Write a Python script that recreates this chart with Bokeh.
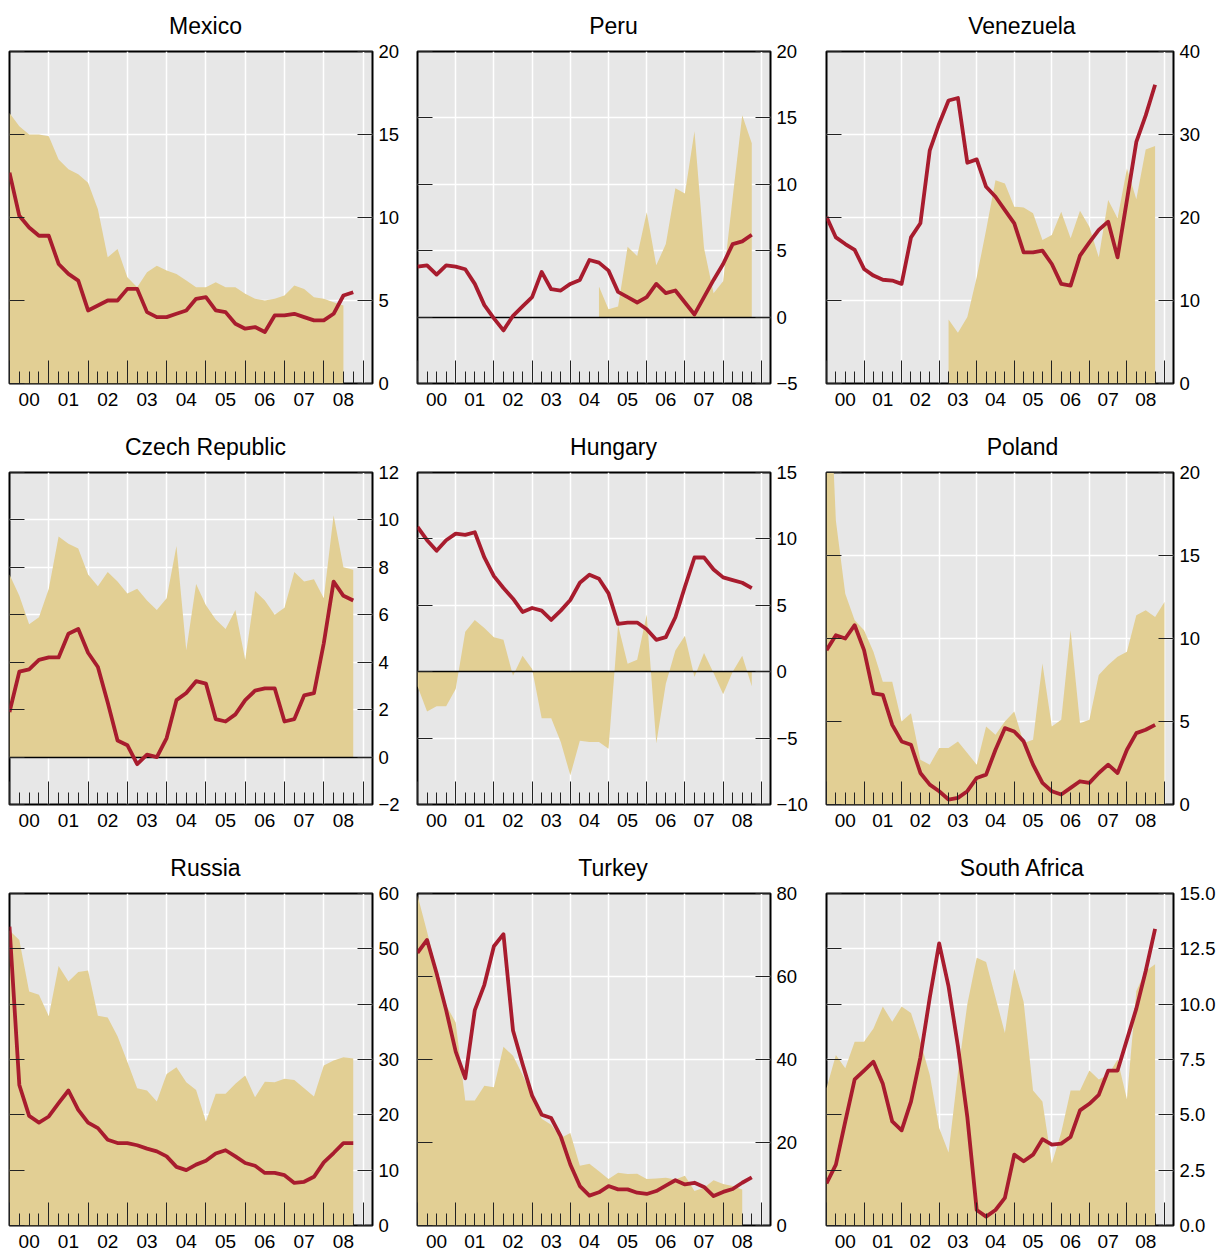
from bokeh.plotting import figure
from bokeh.layouts import gridplot
from bokeh.models import Range1d, LinearAxis, FixedTicker, Grid, Title, CustomJSTickFormatter
from bokeh.embed import file_html
from bokeh.resources import INLINE

FONT = "Liberation Sans"
BG = "#e7e7e7"
TAN = "#e2cf94"
RED = "#a81c2e"

# quarterly time positions, 2000Q1 .. 2009Q1
quarters = [y + q / 4 for y in range(2000, 2009) for q in range(4)] + [2009.0]
year_ticks = list(range(2000, 2010))
year_label_pos = [y + 0.5 for y in range(2000, 2009)]
year_labels = ["00", "01", "02", "03", "04", "05", "06", "07", "08"]

# ---------------- data (red line and tan area series) -------------
mexico_line = [12.7, 10.1, 9.4, 8.9, 8.9, 7.2, 6.6, 6.2, 4.4, 4.7, 5.0, 5.0, 5.7, 5.7, 4.3, 4.0, 4.0, 4.2,
               4.4, 5.1, 5.2, 4.4, 4.3, 3.6, 3.3, 3.4, 3.1, 4.1, 4.1, 4.2, 4.0, 3.8, 3.8, 4.2, 5.3, 5.5]
mexico_area = [16.3, 15.5, 15.0, 15.0, 14.9, 13.5, 12.9, 12.6, 12.1, 10.5, 7.6, 8.1, 6.4, 5.8, 6.7, 7.1, 6.8,
               6.6, 6.2, 5.8, 5.8, 6.1, 5.8, 5.8, 5.4, 5.1, 5.0, 5.1, 5.3, 5.9, 5.7, 5.2, 5.1, 4.9, 4.7]
mexico_area_start = 0
mexico_yticks = [0, 5, 10, 15, 20]
mexico_ylabels = ["0", "5", "10", "15", "20"]

peru_line = [3.8, 3.9, 3.2, 3.9, 3.8, 3.6, 2.5, 0.9, -0.1, -1.0, 0.1, 0.8, 1.5, 3.4, 2.1, 2.0, 2.5, 2.8,
             4.3, 4.1, 3.5, 1.9, 1.5, 1.1, 1.5, 2.5, 1.8, 2.0, 1.1, 0.2, 1.5, 2.8, 4.0, 5.5, 5.7, 6.2]
peru_area = [2.3, 0.6, 0.8, 5.3, 4.6, 7.9, 3.9, 5.5, 9.7, 9.3, 14.0, 5.2, 1.8, 2.7, 9.0, 15.2, 13.1]
peru_area_start = 19
peru_yticks = [-5, 0, 5, 10, 15, 20]
peru_ylabels = ["\u22125", "0", "5", "10", "15", "20"]

venezuela_line = [20.1, 17.6, 16.8, 16.1, 13.8, 13.0, 12.5, 12.4, 12.0, 17.6, 19.3, 28.1, 31.3, 34.1, 34.4,
                  26.6, 27.0, 23.7, 22.5, 20.9, 19.3, 15.8, 15.8, 16.0, 14.4, 12.0, 11.8, 15.4, 17.0, 18.5,
                  19.5, 15.2, 22.1, 29.1, 32.3, 36.0]
venezuela_area = [7.7, 6.1, 8.0, 12.8, 18.5, 24.5, 24.1, 21.3, 21.2, 20.5, 17.3, 17.9, 20.7, 17.5, 20.8,
                  18.9, 15.2, 22.1, 19.9, 25.9, 22.2, 28.2, 28.6]
venezuela_area_start = 13
venezuela_yticks = [0, 10, 20, 30, 40]
venezuela_ylabels = ["0", "10", "20", "30", "40"]

czech_line = [1.9, 3.6, 3.7, 4.1, 4.2, 4.2, 5.2, 5.4, 4.4, 3.8, 2.3, 0.7, 0.5, -0.3, 0.1, 0.0, 0.8, 2.4,
              2.7, 3.2, 3.1, 1.6, 1.5, 1.8, 2.4, 2.8, 2.9, 2.9, 1.5, 1.6, 2.6, 2.7, 4.8, 7.4, 6.8, 6.6]
czech_area = [7.7, 6.8, 5.6, 5.9, 7.1, 9.3, 9.0, 8.8, 7.7, 7.2, 7.8, 7.4, 6.9, 7.1, 6.6, 6.2, 6.7, 8.9,
              4.5, 7.3, 6.4, 5.8, 5.4, 6.2, 4.1, 7.0, 6.6, 6.0, 6.3, 7.8, 7.4, 7.5, 6.7, 10.2, 8.0, 7.9]
czech_area_start = 0
czech_yticks = [-2, 0, 2, 4, 6, 8, 10, 12]
czech_ylabels = ["\u22122", "0", "2", "4", "6", "8", "10", "12"]

hungary_line = [10.9, 9.9, 9.1, 9.9, 10.4, 10.3, 10.5, 8.6, 7.2, 6.3, 5.5, 4.5, 4.8, 4.6, 3.9, 4.6, 5.4,
                6.7, 7.3, 7.0, 5.9, 3.6, 3.7, 3.7, 3.2, 2.4, 2.6, 4.1, 6.4, 8.6, 8.6, 7.7, 7.1, 6.9, 6.7, 6.3]
hungary_area = [-1.1, -3.0, -2.6, -2.6, -1.3, 3.0, 3.9, 3.3, 2.6, 2.4, -0.3, 1.2, 0.2, -3.5, -3.5, -5.3,
                -7.8, -5.2, -5.3, -5.3, -5.8, 3.5, 0.6, 0.9, 4.3, -5.4, -0.9, 1.6, 2.7, -0.4, 1.4, -0.1,
                -1.7, 0.0, 1.2, -1.1]
hungary_area_start = 0
hungary_yticks = [-10, -5, 0, 5, 10, 15]
hungary_ylabels = ["\u221210", "\u22125", "0", "5", "10", "15"]

poland_line = [9.3, 10.2, 10.0, 10.8, 9.3, 6.7, 6.6, 4.8, 3.8, 3.6, 1.9, 1.2, 0.8, 0.3, 0.4, 0.8, 1.6, 1.8,
               3.3, 4.6, 4.4, 3.8, 2.4, 1.3, 0.8, 0.6, 1.0, 1.4, 1.3, 1.9, 2.4, 1.9, 3.3, 4.3, 4.5, 4.8]
poland_area = [30.0, 17.1, 12.7, 11.1, 10.5, 9.2, 7.4, 7.4, 5.0, 5.5, 2.7, 2.4, 3.4, 3.4, 3.8, 3.1, 2.4,
               4.7, 4.2, 5.0, 5.6, 3.7, 3.9, 8.5, 4.7, 5.1, 10.5, 4.9, 5.1, 7.8, 8.4, 8.9, 9.2, 11.4, 11.7,
               11.3, 12.2]
poland_area_start = 0
poland_yticks = [0, 5, 10, 15, 20]
poland_ylabels = ["0", "5", "10", "15", "20"]

russia_line = [54.0, 25.4, 19.8, 18.6, 19.7, 22.1, 24.4, 20.9, 18.6, 17.6, 15.5, 14.9, 14.9, 14.5, 13.9,
               13.4, 12.5, 10.6, 10.0, 11.0, 11.7, 13.0, 13.6, 12.5, 11.3, 10.8, 9.5, 9.5, 9.1, 7.7, 7.9,
               8.8, 11.4, 13.1, 14.9, 14.9]
russia_area = [53.3, 51.6, 42.3, 41.7, 37.8, 46.9, 44.1, 45.8, 46.1, 37.9, 37.6, 34.2, 29.6, 24.8, 24.4,
               22.4, 27.4, 28.6, 25.9, 24.5, 18.8, 23.8, 23.8, 25.6, 27.1, 23.2, 26.0, 25.9, 26.5, 26.3,
               24.8, 23.3, 28.9, 29.8, 30.4, 30.2]
russia_area_start = 0
russia_yticks = [0, 10, 20, 30, 40, 50, 60]
russia_ylabels = ["0", "10", "20", "30", "40", "50", "60"]

turkey_line = [65.7, 68.8, 60.8, 51.9, 41.9, 35.5, 51.9, 58.0, 67.3, 70.2, 47.0, 38.9, 31.3, 26.7, 25.9,
               21.5, 14.7, 9.5, 7.2, 8.0, 9.5, 8.7, 8.7, 7.9, 7.6, 8.3, 9.6, 10.9, 9.9, 10.3, 9.3, 7.1,
               8.1, 8.8, 10.3, 11.6]
turkey_area = [79.6, 70.8, 61.6, 53.1, 48.9, 30.1, 30.1, 33.7, 33.3, 43.1, 40.9, 36.3, 31.3, 25.7, 24.3,
               21.1, 22.3, 14.4, 14.9, 13.1, 11.2, 12.7, 12.4, 12.5, 11.2, 11.3, 11.5, 11.1, 12.0, 8.3,
               9.1, 10.9, 10.0, 9.5, 8.7]
turkey_area_start = 0
turkey_yticks = [0, 20, 40, 60, 80]
turkey_ylabels = ["0", "20", "40", "60", "80"]

safrica_line = [1.9, 2.75, 4.7, 6.6, 7.0, 7.4, 6.4, 4.7, 4.3, 5.6, 7.6, 10.3, 12.75, 10.8, 8.1, 4.9, 0.7,
                0.4, 0.7, 1.25, 3.2, 2.9, 3.2, 3.9, 3.65, 3.7, 4.0, 5.2, 5.5, 5.9, 7.0, 7.0, 8.4, 9.8,
                11.5, 13.4]
safrica_area = [6.2, 7.7, 7.1, 8.3, 8.3, 8.9, 9.9, 9.2, 9.9, 9.6, 8.3, 6.8, 4.4, 3.3, 6.9, 10.0, 12.1,
                11.9, 10.3, 8.7, 11.6, 10.1, 6.1, 5.6, 2.8, 4.2, 6.1, 6.1, 7.0, 6.6, 6.8, 7.5, 5.7, 10.6,
                11.5, 11.8]
safrica_area_start = 0
safrica_yticks = [0, 2.5, 5, 7.5, 10, 12.5, 15]
safrica_ylabels = ["0.0", "2.5", "5.0", "7.5", "10.0", "12.5", "15.0"]

# ---------------- layout -----------------
COL_W = [409, 409, 403]
COL_LEFT = [9, 8, 8]
ROW_H = [421, 421, 412]
ROW_BOTTOM = [38, 38, 29]
TOP = 51
TITLE_SIZE = 23
TITLE_CENTER = 196   # title centre, px right of the frame's left edge
BLANK = CustomJSTickFormatter(code="return ''")

# advance widths (em) of Liberation Sans, used to centre titles over the whole cell
CHAR_EM = {'M': .833, 'e': .556, 'x': .5, 'i': .222, 'c': .5, 'o': .556, 'P': .667, 'r': .333, 'u': .556,
           'V': .667, 'n': .556, 'z': .5, 'l': .222, 'a': .556, 'C': .722, 'h': .556, ' ': .278, 'R': .722,
           'p': .556, 'b': .556, 'H': .722, 'g': .556, 'y': .5, 'd': .556, 's': .5, 'T': .611, 'k': .5,
           'S': .667, 't': .278, 'A': .667, 'f': .278}


def text_width(s, size):
    return sum(CHAR_EM.get(ch, 0.556) for ch in s) * size


def make_panel(title, line, area, area_start, yticks, ylabels, zero_line, col, row, frame_w):
    width, height = COL_W[col], ROW_H[row]
    left = COL_LEFT[col]
    p = figure(width=width, height=height, output_backend="svg", toolbar_location=None,
               x_range=Range1d(2000, 2009.24), y_range=Range1d(yticks[0], yticks[-1]),
               x_axis_type=None, y_axis_type=None,
               min_border_left=left, min_border_right=width - left - frame_w,
               min_border_top=TOP, min_border_bottom=ROW_BOTTOM[row],
               background_fill_color=BG, border_fill_color="white",
               outline_line_color="black", outline_line_width=2)

    p.add_layout(Grid(dimension=0, ticker=FixedTicker(ticks=year_ticks),
                      grid_line_color="white", grid_line_width=1.5), "center")
    p.add_layout(Grid(dimension=1, ticker=FixedTicker(ticks=yticks),
                      grid_line_color="white", grid_line_width=1.5), "center")

    ax = quarters[area_start:area_start + len(area)]
    p.varea(x=ax, y1=0, y2=area, fill_color=TAN)
    if zero_line:
        p.hspan(y=[0], line_color="black", line_width=1.5)
    p.line(quarters[:len(line)], line, line_color=RED, line_width=3.8, line_join="round")

    tick_axis = LinearAxis(ticker=FixedTicker(ticks=year_ticks, minor_ticks=quarters),
                           formatter=BLANK, axis_line_color=None,
                           major_tick_in=23, major_tick_out=0, minor_tick_in=12, minor_tick_out=0,
                           major_tick_line_color="#222", minor_tick_line_color="#222",
                           major_label_text_font_size="0px", major_label_standoff=0)
    p.add_layout(tick_axis, "below")
    label_axis = LinearAxis(ticker=FixedTicker(ticks=year_label_pos, minor_ticks=[]),
                            axis_line_color=None, major_tick_line_color=None,
                            minor_tick_line_color=None, major_tick_in=0, major_tick_out=0,
                            major_label_overrides=dict(zip(year_label_pos, year_labels)),
                            major_label_standoff=9, major_label_text_font=FONT,
                            major_label_text_font_size="19px", major_label_text_color="black")
    p.add_layout(label_axis, "below")

    right_axis = LinearAxis(ticker=FixedTicker(ticks=yticks, minor_ticks=[]),
                            axis_line_color=None, major_tick_in=15, major_tick_out=0,
                            major_tick_line_color="#222", minor_tick_line_color=None,
                            major_label_overrides=dict(zip(yticks, ylabels)),
                            major_label_standoff=6, major_label_text_font=FONT,
                            major_label_text_font_size="18.5px", major_label_text_color="black")
    p.add_layout(right_axis, "right")
    left_axis = LinearAxis(ticker=FixedTicker(ticks=yticks, minor_ticks=[]), formatter=BLANK,
                           axis_line_color=None, major_tick_in=15, major_tick_out=0,
                           major_tick_line_color="#222", minor_tick_line_color=None,
                           major_label_text_font_size="0px", major_label_standoff=0)
    p.add_layout(left_axis, "left")

    t = Title(text=title, align="left", vertical_align="top",
              offset=TITLE_CENTER - text_width(title, TITLE_SIZE) / 2, text_font=FONT,
              text_font_size=f"{TITLE_SIZE}px", text_font_style="normal", text_color="black")
    try:
        t.standoff = 22
    except AttributeError:
        pass
    p.add_layout(t, "above")
    return p


panels = [
    make_panel("Mexico", mexico_line, mexico_area, mexico_area_start, mexico_yticks, mexico_ylabels, False, 0, 0, 363),
    make_panel("Peru", peru_line, peru_area, peru_area_start, peru_yticks, peru_ylabels, True, 1, 0, 364),
    make_panel("Venezuela", venezuela_line, venezuela_area, venezuela_area_start, venezuela_yticks, venezuela_ylabels, False, 2, 0, 361),
    make_panel("Czech Republic", czech_line, czech_area, czech_area_start, czech_yticks, czech_ylabels, True, 0, 1, 363),
    make_panel("Hungary", hungary_line, hungary_area, hungary_area_start, hungary_yticks, hungary_ylabels, True, 1, 1, 353),
    make_panel("Poland", poland_line, poland_area, poland_area_start, poland_yticks, poland_ylabels, False, 2, 1, 361),
    make_panel("Russia", russia_line, russia_area, russia_area_start, russia_yticks, russia_ylabels, False, 0, 2, 363),
    make_panel("Turkey", turkey_line, turkey_area, turkey_area_start, turkey_yticks, turkey_ylabels, False, 1, 2, 364),
    make_panel("South Africa", safrica_line, safrica_area, safrica_area_start, safrica_yticks, safrica_ylabels, False, 2, 2, 347),
]

grid = gridplot([panels[0:3], panels[3:6], panels[6:9]], toolbar_location=None)

with open("out.html", "w") as f:
    f.write(file_html(grid, INLINE))
